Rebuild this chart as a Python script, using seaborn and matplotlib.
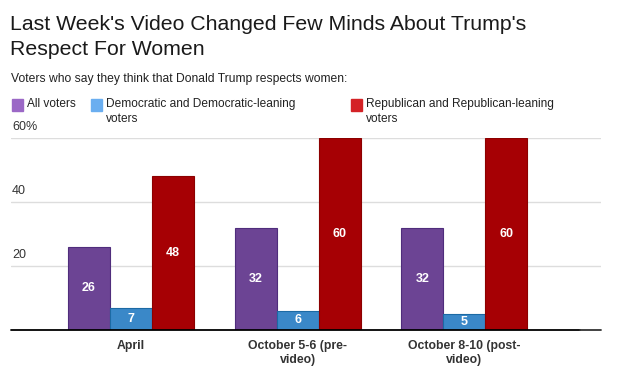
import pandas as pd
import matplotlib.pyplot as plt
import matplotlib.patches as mpatches
import seaborn as sns

# data
periods = ["April", "October 5-6 (pre-video)", "October 8-10 (post-video)"]
period_labels = ["April", "October 5-6 (pre-\nvideo)", "October 8-10 (post-\nvideo)"]
groups = ["All voters", "Democratic and Democratic-leaning voters",
          "Republican and Republican-leaning voters"]
legend_labels = ["All voters", "Democratic and Democratic-leaning\nvoters",
                 "Republican and Republican-leaning\nvoters"]
all_voters = [26, 32, 32]
dem_voters = [7, 6, 5]
rep_voters = [48, 60, 60]

bar_colors = ["#6c4494", "#3a88c8", "#a60004"]
edge_colors = ["#4f2d7c", "#1c6aa4", "#8c0000"]
legend_colors = ["#9b68c6", "#6aaef0", "#d42226"]

rows = []
for g, vals in zip(groups, [all_voters, dem_voters, rep_voters]):
    for p, v in zip(periods, vals):
        rows.append({"period": p, "group": g, "value": v})
df = pd.DataFrame(rows)

sns.set_style("white")
plt.rcParams['font.family'] = ['Liberation Sans', 'DejaVu Sans']

fig = plt.figure(figsize=(6.17, 3.76), dpi=100)
ax = fig.add_axes([11 / 617, 1 - 330 / 376, 590 / 617, 192 / 376])

sns.barplot(data=df, x="period", y="value", hue="group", order=periods,
            hue_order=groups, palette=bar_colors, width=0.757, saturation=1,
            legend=False, ax=ax)

for container, ec in zip(ax.containers, edge_colors):
    for bar in container:
        bar.set_edgecolor(ec)
        bar.set_linewidth(0.8)
    ax.bar_label(container, label_type="center", color="white",
                 fontweight="bold", fontsize=9)

ax.set_ylim(0, 60)
ax.set_xlim(-0.72, 2.82)
ax.set_yticks([])
ax.set_xlabel("")
ax.set_ylabel("")
ax.set_xticks(range(len(periods)))
ax.set_xticklabels(period_labels, fontweight="bold", fontsize=8.8, color="#333333",
                   linespacing=1.25)
ax.tick_params(axis="x", length=0, pad=7)
for s in ax.spines.values():
    s.set_visible(False)

for y, lab in zip([20, 40, 60], ["20", "40", "60%"]):
    ax.axhline(y, color="#dddddd", lw=1, zorder=0)
    ax.text(0.002, y + 3.4, lab, transform=ax.get_yaxis_transform(),
            fontsize=9, color="#333333", va="center", ha="left")
ax.plot([0, 569 / 590], [0, 0], transform=ax.get_yaxis_transform(),
        color="black", lw=1.3, clip_on=False, zorder=5)
ax.plot([569 / 590, 1], [0, 0], transform=ax.get_yaxis_transform(),
        color="#333333", lw=1.3, clip_on=False, zorder=5)

fig.text(10 / 617, 1 - 55 / 376, "Last Week's Video Changed Few Minds About Trump's\nRespect For Women",
         fontsize=15.3, va="baseline", ha="left", color="#1a1a1a", linespacing=1.42)
fig.text(11 / 617, 1 - 79 / 376, "Voters who say they think that Donald Trump respects women:",
         fontsize=8.7, va="center", ha="left", color="#222222")

leg_x = [12, 91, 351]
for x, col, lab in zip(leg_x, legend_colors, legend_labels):
    fig.patches.append(mpatches.Rectangle((x / 617, 1 - 111 / 376), 11 / 617, 12 / 376,
                                          transform=fig.transFigure, color=col))
    fig.text((x + 15) / 617, 1 - 98 / 376, lab, fontsize=8.6, va="top", ha="left",
             color="#222222", linespacing=1.3)

fig.savefig("out.png", dpi=100)
